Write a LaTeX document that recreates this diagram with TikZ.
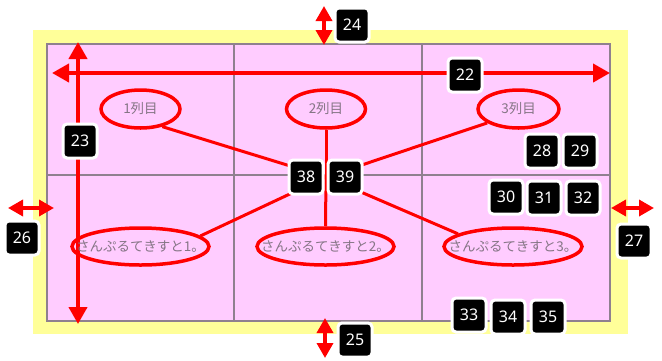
\documentclass[tikz,border=0pt]{standalone}
\usepackage{fontspec}
\newfontfamily\jpfont{Noto Sans CJK JP}
\newfontfamily\numfont{Noto Sans}
\usetikzlibrary{shapes.geometric,arrows.meta}
\definecolor{cMargin}{HTML}{FFFF99}
\definecolor{cCell}{HTML}{FFCCFF}
\definecolor{cGrid}{HTML}{8F808F}
\definecolor{cText}{HTML}{857585}
\definecolor{cMark}{HTML}{FF0000}
\tikzset{
  oval/.style  = {ellipse, draw=cMark, line width=3.5pt, text=cText, inner sep=0pt,
                  font=\jpfont\fontsize{13.5}{16}\selectfont, minimum height=38pt},
  wide/.style  = {oval, inner xsep=-22pt, minimum width=137pt, minimum height=37pt},
  tag/.style   = {rectangle, rounded corners=4pt, fill=black, draw=white, line width=3pt,
                  text=white, inner sep=0pt, minimum size=34pt,
                  font=\numfont\fontsize{16}{18}\selectfont},
  wire/.style  = {draw=cMark, line width=3pt},
  span/.style  = {{Triangle[length=17pt,width=18pt]}-{Triangle[length=17pt,width=18pt]},
                  draw=cMark, line width=4pt},
  gap/.style   = {{Triangle[length=15pt,width=16pt]}-{Triangle[length=15pt,width=16pt]},
                  draw=cMark, line width=3.5pt},
}

\begin{document}
\begin{tikzpicture}[x=1pt, y=-1pt]
  \useasboundingbox (0,0) rectangle (662,360);

  % margin and table
  \fill[cMargin] (33,30) rectangle (628,334);
  \draw[cGrid, fill=cCell, line width=1.2pt] (47,44) rectangle (610,321);
  \draw[cGrid, line width=1.2pt] (234,44) -- (234,321) (422,44) -- (422,321) (47,175) -- (610,175);

  % size arrows
  \coordinate (wl) at (52,73);   \coordinate (wr) at (610,73);
  \coordinate (ht) at (78,42);   \coordinate (hb) at (78,324);
  \coordinate (mt1) at (324,6);  \coordinate (mt2) at (324,45);
  \coordinate (mb1) at (325,318); \coordinate (mb2) at (325,358);
  \coordinate (ml1) at (8,208);  \coordinate (ml2) at (54,208);
  \coordinate (mr1) at (611,208); \coordinate (mr2) at (654,208);
  \draw[span] (wl) -- (wr);
  \draw[span] (ht) -- (hb);
  \draw[gap] (mt1) -- (mt2); \draw[gap] (mb1) -- (mb2);
  \draw[gap] (ml1) -- (ml2); \draw[gap] (mr1) -- (mr2);

  % headers and cells
  \node[oval, minimum width=79pt] (c1) at (140.5,109) {1列目};
  \node[oval, minimum width=79pt] (c2) at (326,109) {2列目};
  \node[oval, minimum width=81pt] (c3) at (518.5,109) {3列目};
  \node[wide] (s1) at (140.5,246.5) {さんぷるてきすと1。};
  \node[wide] (s2) at (325.5,246.5) {さんぷるてきすと2。};
  \node[wide, minimum width=138pt] (s3) at (513,246.5) {さんぷるてきすと3。};

  \coordinate (hub) at (326,177);
  \draw[wire] (c1.-39) -- (hub); \draw[wire] (c2.south) -- (hub); \draw[wire] (c3.204) -- (hub);
  \draw[wire] (s1.10) -- (hub);  \draw[wire] (s2.north) -- (hub); \draw[wire] (s3.167) -- (hub);

  % callout numbers
  \node[tag] (n22) at (465,75) {22};
  \node[tag] (n23) at (80,141) {23};
  \node[tag] (n24) at (352,25) {24};
  \node[tag] (n25) at (355,340) {25};
  \node[tag] (n26) at (22,238) {26};
  \node[tag] (n27) at (634,241) {27};
  \node[tag] (n28) at (542,151) {28};
  \node[tag] (n29) at (580,151) {29};
  \node[tag] (n30) at (506,197) {30};
  \node[tag] (n31) at (544,198) {31};
  \node[tag] (n32) at (583,198) {32};
  \node[tag] (n33) at (469,315) {33};
  \node[tag] (n34) at (508,317) {34};
  \node[tag] (n35) at (548,317) {35};
  \node[tag] (n38) at (306,177) {38};
  \node[tag] (n39) at (345,177) {39};
\end{tikzpicture}
\end{document}
